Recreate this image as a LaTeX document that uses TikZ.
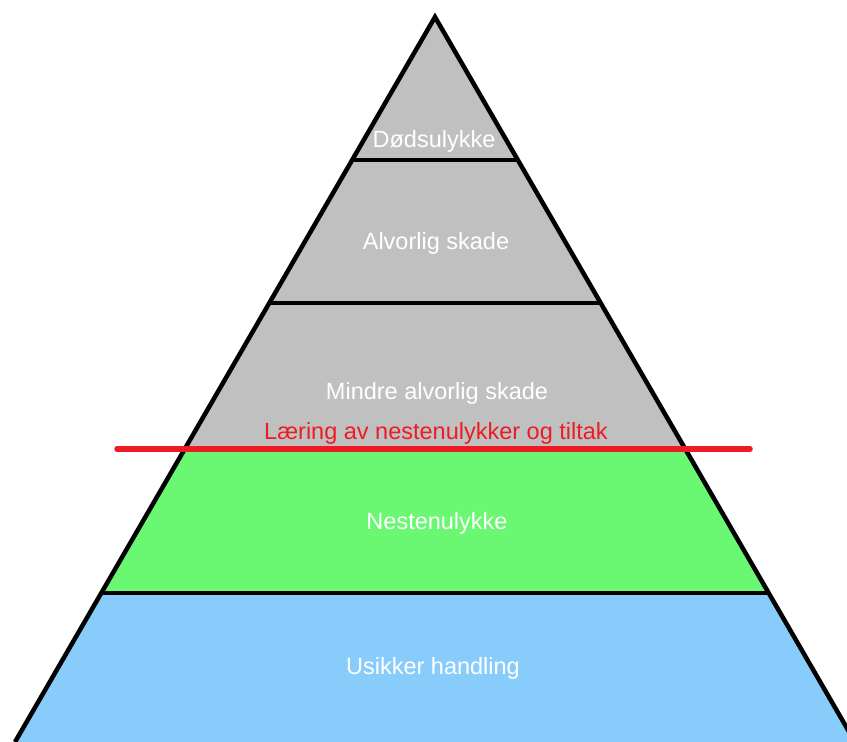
\documentclass[tikz,border=0pt]{standalone}
\usepackage{fontspec}
\setmainfont{Liberation Sans}
\usetikzlibrary{calc}

\definecolor{lagGraa}{RGB}{192,192,192}
\definecolor{lagGroenn}{RGB}{106,248,114}
\definecolor{lagBlaa}{RGB}{135,204,250}
\definecolor{linjeRoed}{RGB}{237,28,36}

\begin{document}
\begin{tikzpicture}[x=1pt, y=-1pt,
	etikett/.style={text=white, font=\fontsize{23.5}{28}\selectfont, inner sep=0pt, anchor=base},
	kant/.style={line width=4.5pt, line join=miter},
	skille/.style={line width=4.5pt},
	roedlinje/.style={draw=linjeRoed, line width=5.5pt, line cap=round}]
	\useasboundingbox (0,0) rectangle (847,742);

	% hjoerner i pyramiden
	\coordinate (topp) at (435,17);
	\coordinate (vb) at (15,742);
	\coordinate (hb) at (855,742);

	% lagene
	\begin{scope}
		\clip (topp) -- (vb) -- (hb) -- cycle;
		\fill[lagGraa] (0,0) rectangle (900,449);
		\fill[lagGroenn] (0,449) rectangle (900,593);
		\fill[lagBlaa] (0,593) rectangle (900,760);
	\end{scope}

	% skillelinjer
	\foreach \t in {0.1972, 0.3945, 0.5959, 0.7945}
		\draw[skille] ($(topp)!\t!(vb)$) -- ($(topp)!\t!(hb)$);
	\draw[kant] (vb) -- (topp) -- (hb);

	\node[etikett] (doed) at (434,147) {Dødsulykke};
	\node[etikett] (alvorlig) at (436,249) {Alvorlig skade};
	\node[etikett] (mindre) at (437,399) {Mindre alvorlig skade};
	\node[etikett, text=linjeRoed] (laering) at (436,439) {Læring av nestenulykker og tiltak};
	\node[etikett] (nesten) at (437,529) {Nestenulykke};
	\node[etikett] (usikker) at (433,674) {Usikker handling};

	% roed linje
	\coordinate (roedV) at (117,449);
	\coordinate (roedH) at (750,449);
	\draw[roedlinje] (roedV) -- (roedH);
\end{tikzpicture}
\end{document}
